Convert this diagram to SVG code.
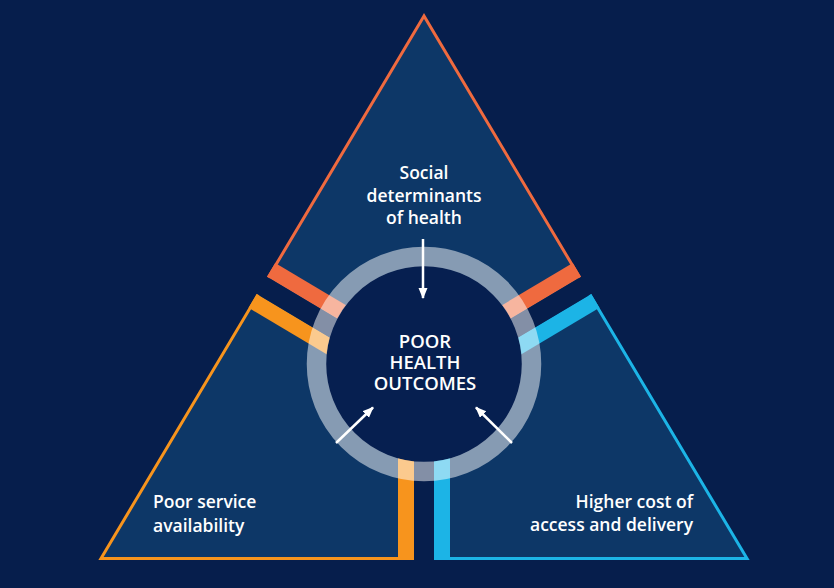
<svg xmlns="http://www.w3.org/2000/svg" width="834" height="588" viewBox="0 0 834 588">
<defs>
<style>
.lbl{font-family:"Open Sans","Liberation Sans",sans-serif;font-weight:600;fill:#ffffff;font-size:17.5px}
.ctr{font-size:18.5px}
.piece{fill:#0D3767;stroke-width:3;stroke-linejoin:miter}
.band{stroke-width:16;fill:none}
.red{stroke:#EF6A3F}
.orange{stroke:#F7941D}
.cyan{stroke:#1CB4E6}
.arrow{stroke:#ffffff;stroke-width:2.5;fill:none;marker-end:url(#ah)}
</style>
<polygon id="triShape" points="424,16 101,558.5 747,558.5"/>
<clipPath id="tri"><polygon points="424,13 98.4,560 749.6,560"/></clipPath>
<clipPath id="secT"><polygon points="424,370.4 -86.3,66.2 -86.3,-200 934.3,-200 934.3,66.2"/></clipPath>
<clipPath id="secL"><polygon points="414,387.7 -96.5,83.4 -96.5,700 414,700"/></clipPath>
<clipPath id="secR"><polygon points="434,387.7 944.5,83.4 944.5,700 434,700"/></clipPath>
<marker id="ah" markerUnits="userSpaceOnUse" markerWidth="12" markerHeight="10" refX="10" refY="4.5" orient="auto">
<path d="M0,0 L11,4.5 L0,9 z" fill="#ffffff"/>
</marker>
</defs>
<rect width="834" height="588" fill="#061E4C"/>

<g id="social-determinants">
<g clip-path="url(#secT)">
<use href="#triShape" class="piece red"/>
<g clip-path="url(#tri)">
<line class="band red" x1="476.2" y1="392.1" x2="89.6" y2="161.7"/>
<line class="band red" x1="371.8" y1="392.1" x2="758.4" y2="161.7"/>
</g>
</g>
<text class="lbl" text-anchor="middle" x="424" y="179">Social</text>
<text class="lbl" text-anchor="middle" x="424" y="201.5">determinants</text>
<text class="lbl" text-anchor="middle" x="424" y="224">of health</text>
</g>

<g id="poor-service">
<g clip-path="url(#secL)">
<use href="#triShape" class="piece orange"/>
<g clip-path="url(#tri)">
<line class="band orange" x1="457.7" y1="423.1" x2="71.2" y2="192.7"/>
<line class="band orange" x1="406" y1="300" x2="406" y2="600"/>
</g>
</g>
<text class="lbl" x="153" y="508">Poor service</text>
<text class="lbl" x="153" y="531.5">availability</text>
</g>

<g id="higher-cost">
<g clip-path="url(#secR)">
<use href="#triShape" class="piece cyan"/>
<g clip-path="url(#tri)">
<line class="band cyan" x1="390.3" y1="423.1" x2="776.8" y2="192.7"/>
<line class="band cyan" x1="442" y1="300" x2="442" y2="600"/>
</g>
</g>
<text class="lbl" text-anchor="end" x="693" y="508">Higher cost of</text>
<text class="lbl" text-anchor="end" x="693" y="531">access and delivery</text>
</g>

<g id="poor-health-outcomes">
<circle cx="424" cy="364" r="98" fill="#061F50"/>
<circle cx="424" cy="364" r="107.5" fill="none" stroke="#ffffff" stroke-opacity="0.5" stroke-width="19.5"/>
<text class="lbl ctr" text-anchor="middle"><tspan x="425" y="348">POOR</tspan><tspan x="425" y="369">HEALTH</tspan><tspan x="425" y="390">OUTCOMES</tspan></text>
</g>

<g id="connectors">
<line class="arrow" x1="423" y1="239" x2="423" y2="298"/>
<line class="arrow" x1="336" y1="443" x2="373" y2="407.5"/>
<line class="arrow" x1="512" y1="443" x2="476" y2="407.5"/>
</g>
</svg>
